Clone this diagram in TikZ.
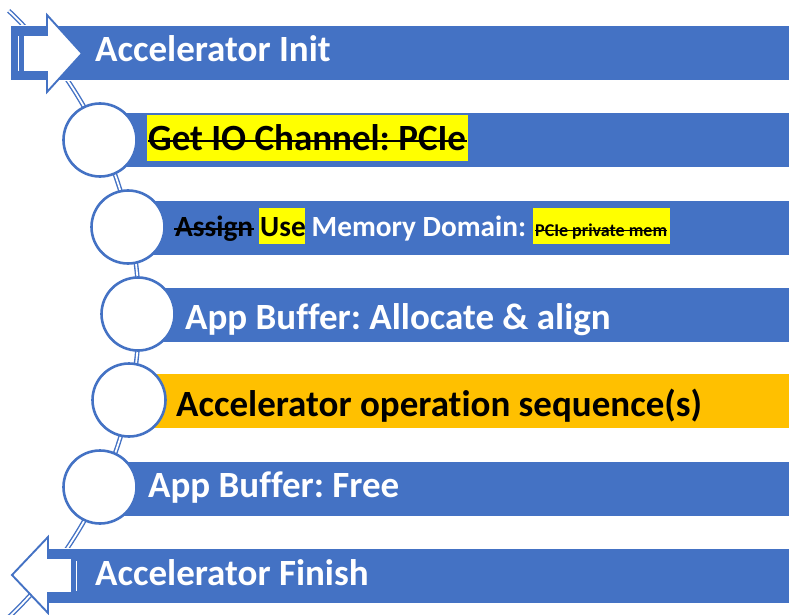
\documentclass[tikz,border=0pt]{standalone}
\usepackage{fontspec}
\setmainfont{Carlito}[Ligatures=NoCommon]
\definecolor{barblue}{HTML}{4472C4}
\definecolor{baramber}{HTML}{FFC000}
\definecolor{hlyellow}{HTML}{FFFF00}

\begin{document}
\frenchspacing
\begin{tikzpicture}[x=1pt,y=-1pt,
  bar/.style={rectangle, fill=barblue, draw=white, line width=0.6pt,
    anchor=north west, minimum height=55pt, inner sep=0pt},
  ring/.style={circle, minimum size=73pt, inner sep=0pt, fill=white,
    draw=barblue, line width=2.6pt},
  bartext/.style={anchor=base west, inner sep=0pt, text=white,
    font=\bfseries\fontsize{37}{40}\selectfont},
  midtext/.style={anchor=base west, inner sep=0pt, text=white,
    font=\bfseries\fontsize{29.3}{32}\selectfont},
  hlbox/.style={rectangle, fill=hlyellow, anchor=north west, inner sep=0pt},
  strike/.style={draw=black, line width=2pt},
  blockarrow/.style={fill=white, draw=barblue, line width=1.9pt, line join=miter},
  timeline/.style={draw=barblue, line width=1.4pt, double=white, double distance=1.8pt}]

\useasboundingbox (0,0) rectangle (789,615);

% curved timeline running behind everything
\coordinate (hub) at (-279,314);
\draw[timeline] (hub) ++(-46.5:418) arc[start angle=-46.5, end angle=47, radius=418];

% bars
\node[bar, minimum width=780pt] (b1) at (10,25) {};
\node[bar, minimum width=690pt] (b2) at (100,112) {};
\node[bar, minimum width=662pt] (b3) at (128,200) {};
\node[bar, minimum width=652pt] (b4) at (138,287) {};
\node[bar, minimum width=661pt, fill=baramber] (b5) at (129,373) {};
\node[bar, minimum width=690pt] (b6) at (100,461) {};
\node[bar, minimum width=742pt] (b7) at (48,548) {};

% highlighted runs
\node[hlbox, minimum width=321pt, minimum height=46pt] (h2) at (147,115) {};
\node[hlbox, minimum width=46pt, minimum height=36pt] (h3a) at (259,208) {};
\node[hlbox, minimum width=137pt, minimum height=36pt] (h3b) at (533,208) {};

% texts
\node[bartext] (t1) at (95,62) {Accelerator Init};
\node[bartext, text=black] (t2) at (148,150) {Get IO Channel: PCIe};
\draw[strike, line width=2.4pt] ([yshift=9pt]t2.base west) -- ([yshift=9pt,xshift=1pt]t2.base east);

\node[midtext, text=black] (t3a) at (175,236) {Assign};
\draw[strike] ([yshift=7pt,xshift=-1pt]t3a.base west) -- ([yshift=7pt,xshift=1pt]t3a.base east);
\node[midtext, text=black] (t3b) at (260,236) {Use};
\node[midtext] (t3c) at (311.5,236) {Memory Domain:};
\node[anchor=base west, inner sep=0pt, font=\bfseries\fontsize{18}{20}\selectfont] (t3d) at (535,236) {PCIe private mem};
\draw[strike, line width=1.5pt] ([yshift=5.5pt]t3d.base west) -- ([yshift=5.5pt]t3d.base east);

\node[bartext] (t4) at (185,329) {App Buffer: Allocate \& align};
\node[bartext, text=black] (t5) at (176,416) {Accelerator operation sequence(s)};
\node[bartext] (t6) at (148,497) {App Buffer: Free};
\node[bartext] (t7) at (95,585) {Accelerator Finish};

% step circles
\node[ring] (c1) at (100,140) {};
\node[ring] (c2) at (128,227) {};
\node[ring] (c3) at (138,314) {};
\node[ring] (c4) at (129,400) {};
\node[ring] (c5) at (100,487) {};

% striped start arrow (pointing right)
\draw[blockarrow] (17,35) rectangle (20,72);
\draw[blockarrow] (23,35) -- (47,35) -- (47,15) -- (82,53.5) -- (47,92)
  -- (47,72) -- (23,72) -- cycle;

% striped finish arrow (pointing left)
\draw[blockarrow] (75,560) rectangle (78,592);
\draw[blockarrow] (72,558) -- (48,558) -- (48,537) -- (12,575) -- (48,613)
  -- (48,593) -- (72,593) -- cycle;
\end{tikzpicture}
\end{document}
